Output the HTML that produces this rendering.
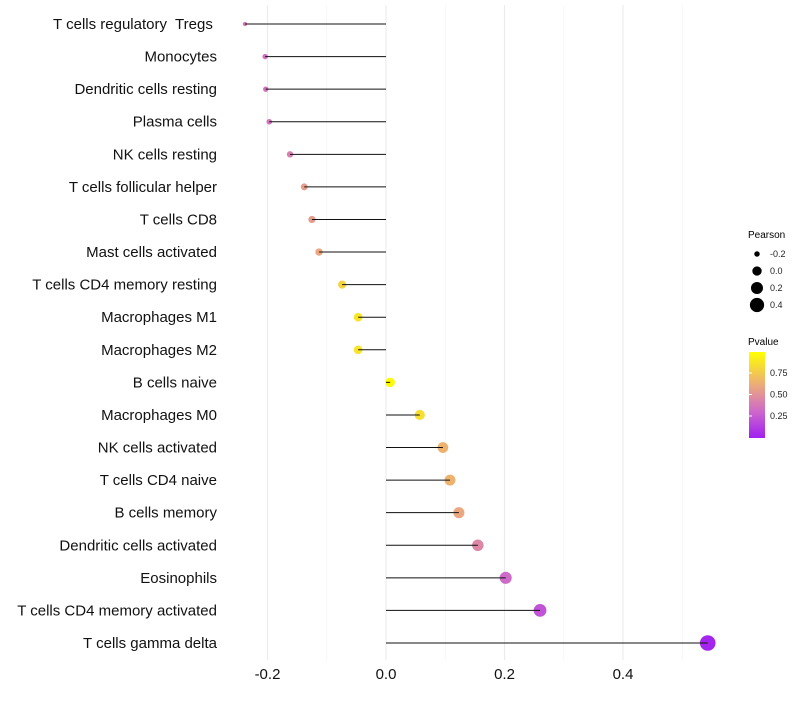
<!DOCTYPE html>
<html><head><meta charset="utf-8">
<style>
body{margin:0;background:#fff;font-family:"Liberation Sans",sans-serif;}
svg text{font-family:"Liberation Sans",sans-serif;white-space:pre;}
</style></head>
<body>
<svg id="chart" width="800" height="700">
<g id="grid"></g>
<g id="marks"></g>
<g id="labels"></g>
<g id="xticks"></g>
<g id="legend">
  <text x="748" y="238" font-size="10">Pearson</text>
  <text x="748" y="345" font-size="10">Pvalue</text>
  <defs><linearGradient id="pg" x1="0" y1="1" x2="0" y2="0">
    <stop offset="0" stop-color="#a020f0"/><stop offset="0.3" stop-color="#cc66cc"/>
    <stop offset="0.6" stop-color="#eba77f"/><stop offset="1" stop-color="#ffff00"/>
  </linearGradient></defs>
  <rect x="749" y="352" width="16" height="86" fill="url(#pg)"/>
</g>
</svg>
<script>
const categories=["T cells regulatory  Tregs ","Monocytes","Dendritic cells resting","Plasma cells","NK cells resting","T cells follicular helper","T cells CD8","Mast cells activated","T cells CD4 memory resting","Macrophages M1","Macrophages M2","B cells naive","Macrophages M0","NK cells activated","T cells CD4 naive","B cells memory","Dendritic cells activated","Eosinophils","T cells CD4 memory activated","T cells gamma delta"];
const pearson=[-0.238,-0.204,-0.203,-0.197,-0.162,-0.138,-0.125,-0.113,-0.074,-0.047,-0.047,0.007,0.057,0.096,0.108,0.123,0.155,0.202,0.260,0.543];
const pvalue=[0.38,0.35,0.35,0.36,0.42,0.55,0.55,0.6,0.8,0.88,0.88,0.98,0.85,0.65,0.65,0.6,0.45,0.32,0.22,0.02];
const xTicks=[-0.2,0,0.2,0.4];
const xMinor=[-0.1,0.1,0.3,0.5];
const sizeLegend=[-0.2,0.0,0.2,0.4];
const colorTicks=[0.25,0.5,0.75];

const NS="http://www.w3.org/2000/svg";
const X=v=>386+v*592.5;
const Y=i=>24+i*(619/19);
const R=v=>Math.sqrt(Math.max(7.5+(v+0.2)*72,2.5));
const stops=[[0,[160,32,240]],[0.3,[204,102,204]],[0.6,[235,167,127]],[1,[255,255,0]]];
function col(p){for(let k=1;k<stops.length;k++){if(p<=stops[k][0]){const a=stops[k-1],b=stops[k],t=(p-a[0])/(b[0]-a[0]);return "rgb("+a[1].map((c,j)=>Math.round(c+(b[1][j]-c)*t)).join(",")+")";}}return "rgb(255,255,0)";}
function mk(t,attrs,parent){const e=document.createElementNS(NS,t);for(const k in attrs)e.setAttribute(k,attrs[k]);parent.appendChild(e);return e;}
const grid=document.getElementById('grid'),marks=document.getElementById('marks'),labels=document.getElementById('labels'),xt=document.getElementById('xticks'),leg=document.getElementById('legend');
xMinor.forEach(v=>{const l=mk('line',{x1:X(v),x2:X(v),y1:5,y2:660,stroke:'#f2f2f2','stroke-width':0.6},grid);

});
xTicks.forEach(v=>{const l=mk('line',{x1:X(v),x2:X(v),y1:5,y2:660,stroke:'#ebebeb','stroke-width':1.1},grid);


const t=mk('text',{x:X(v),y:679,'font-size':15,'text-anchor':'middle',fill:'#111'},xt);t.textContent=v===0?"0.0":v.toFixed(1);

});
categories.forEach((c,i)=>{const y=Y(i);
const p=mk('circle',{cx:X(pearson[i]),cy:y,r:R(pearson[i]),fill:col(pvalue[i])},marks);


const s=mk('line',{x1:X(0),x2:X(pearson[i]),y1:y,y2:y,stroke:'#111','stroke-width':1},marks);


const t=mk('text',{x:217,y:y+5,'font-size':15,'text-anchor':'end',fill:'#111'},labels);t.textContent=c;

});
sizeLegend.forEach((v,k)=>{const y=254+k*17;
const c=mk('circle',{cx:757,cy:y,r:R(v),fill:'#000'},leg);


const t=mk('text',{x:770,y:y+3,'font-size':9,fill:'#222'},leg);t.textContent=v===0?"0.0":v.toFixed(1);

});
colorTicks.forEach(v=>{const y=437.5-v*86;
const t=mk('text',{x:770,y:y+3,'font-size':9,fill:'#222'},leg);t.textContent=v.toFixed(2);


const l=mk('line',{x1:749,x2:752,y1:y,y2:y,stroke:'#fff'},leg);

});
</script>
</body></html>
